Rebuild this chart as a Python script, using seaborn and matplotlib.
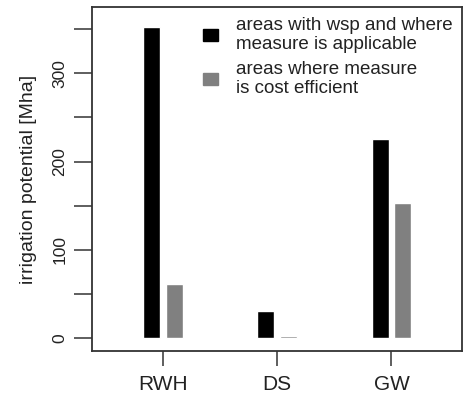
# Irrigation potential bar chart (R-style base graphics look) with seaborn
import pandas as pd
import matplotlib.pyplot as plt
import seaborn as sns
from matplotlib.patches import Patch

categories = ["RWH", "DS", "GW"]
applicable = [352, 31, 226]      # areas with wsp and where measure is applicable
cost_efficient = [61, 2, 153]    # areas where measure is cost efficient
series_names = ["areas with wsp and where\nmeasure is applicable",
                "areas where measure\nis cost efficient"]
ytick_values = [0, 50, 100, 150, 200, 250, 300, 350]
ytick_labels = ["0", "", "100", "", "200", "", "300", ""]

colors = ["#000000", "#808080"]

# long format table for seaborn
df = pd.DataFrame({
    "measure": categories * 2,
    "potential": applicable + cost_efficient,
    "type": [series_names[0]] * 3 + [series_names[1]] * 3,
})

sns.set_style("white")
plt.rcParams["font.family"] = ["Liberation Sans", "DejaVu Sans"]
text_col = "#222222"

fig = plt.figure(figsize=(4.63, 3.97), dpi=100)
ax = fig.add_axes([0.199, 0.116, 0.799, 0.866])

sns.barplot(data=df, x="measure", y="potential", hue="type", palette=colors,
            width=0.4, gap=0.26, saturation=1, legend=False, ax=ax)

ax.set_xlim(-0.617, 2.617)
ax.set_ylim(-14.7, 375)
ax.set_yticks(ytick_values)
ax.set_yticklabels(ytick_labels, rotation=90, va="center")
ax.set_xlabel("")
ax.set_ylabel("irrigation potential [Mha]", fontsize=14, color=text_col, labelpad=11)

for s in ax.spines.values():
    s.set_visible(True)
    s.set_color("#333333")
    s.set_linewidth(1.3)

ax.tick_params(axis="y", direction="out", length=13, width=1.1, color="#333333",
               labelsize=12.5, labelcolor=text_col, pad=5, left=True)
ax.tick_params(axis="x", direction="out", length=11, width=1.1, color="#333333",
               labelsize=15, labelcolor=text_col, pad=6, bottom=True)

# legend without frame, in the top right corner
handles = [Patch(facecolor=c, edgecolor=c) for c in colors]
leg = ax.legend(handles, series_names, loc="upper left",
                bbox_to_anchor=(203 / 463, 1 - 17 / 397), bbox_transform=fig.transFigure,
                frameon=False, fontsize=13.5, handlelength=0.8, handleheight=0.58,
                handletextpad=0.95, labelspacing=0.45, borderpad=0, borderaxespad=0)
for t in leg.get_texts():
    t.set_color(text_col)
    t.set_linespacing(1.15)

plt.savefig("out.png", dpi=100)
